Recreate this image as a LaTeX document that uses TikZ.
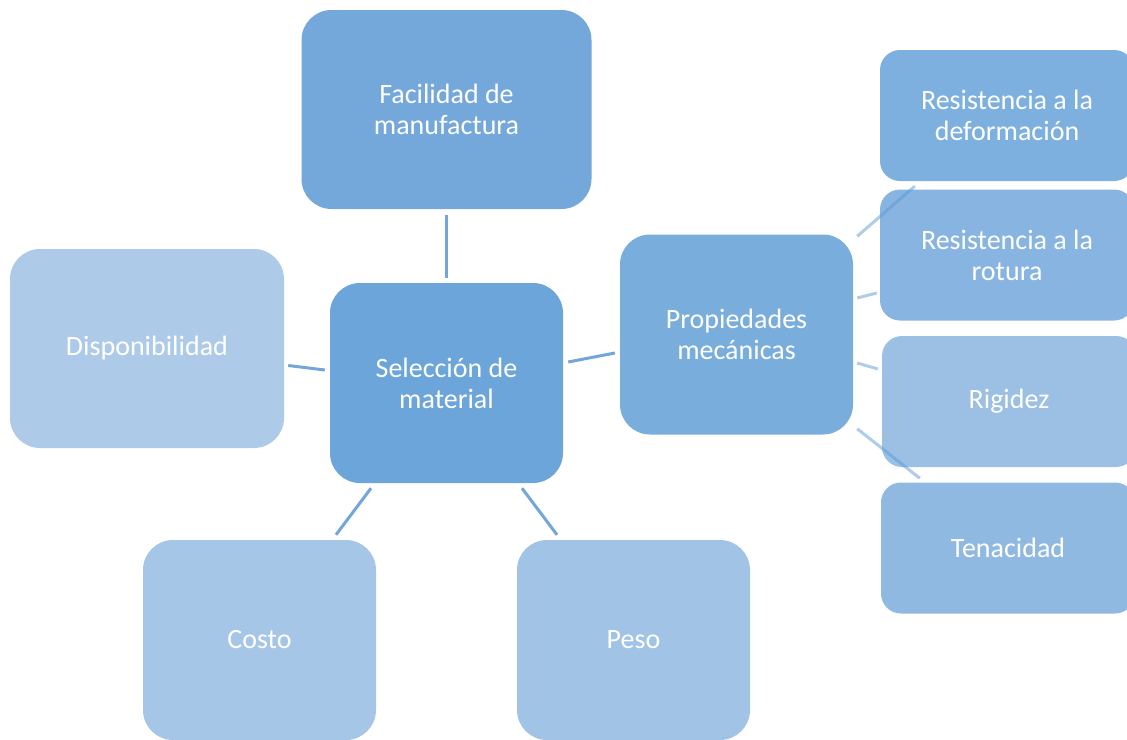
\documentclass[tikz,border=0pt]{standalone}
\usepackage{fontspec}
\setmainfont{Carlito}
\usetikzlibrary{calc}
\definecolor{cFac}{HTML}{74A8DA}
\definecolor{cSel}{HTML}{6CA5D9}
\definecolor{cProp}{HTML}{79ADDC}
\definecolor{cDisp}{HTML}{ADCBE9}
\definecolor{cCosto}{HTML}{A6C6E7}
\definecolor{cPeso}{HTML}{A1C4E6}
\definecolor{cDef}{HTML}{7DB0DE}
\definecolor{cRot}{HTML}{87B4E0}
\definecolor{cRig}{HTML}{9BC0E4}
\definecolor{cTen}{HTML}{90B9E2}
\definecolor{cLine}{HTML}{72A6D9}
\definecolor{cLineR}{HTML}{5B9BD5}
\tikzset{
  box/.style={rectangle, rounded corners=30pt, draw=none, text=white, align=center,
    font=\fontsize{28pt}{31pt}\selectfont, inner sep=0pt},
  bigbox/.style={box, minimum width=233pt, minimum height=200pt},
  sidebox/.style={box, rounded corners=20pt, minimum width=254pt, minimum height=131pt},
  conn/.style={draw=cLine, line width=3pt},
  connR/.style={draw=cLineR, draw opacity=0.5, line width=3pt},
}
\begin{document}
\begin{tikzpicture}[x=1pt,y=-1pt]
\useasboundingbox (0,0) rectangle (1127,739);
\clip (0,0) rectangle (1127,739);
\node[bigbox, fill=cFac, minimum width=290pt, minimum height=199pt] (fac) at (446.5,109.5) {Facilidad de\\manufactura};
\node[bigbox, fill=cDisp, minimum width=274pt, minimum height=199pt] (disp) at (147,348.5) {Disponibilidad};
\node[bigbox, fill=cSel] (sel) at (446.5,383) {Selección de\\material};
\node[bigbox, fill=cProp] (prop) at (736.5,334.5) {Propiedades\\mecánicas};
\node[bigbox, fill=cCosto] (costo) at (259.5,640) {Costo};
\node[bigbox, fill=cPeso] (peso) at (633.5,640) {Peso};
\node[sidebox, fill=cDef] (def) at (1007,115.5) {Resistencia a la\\deformación};
\node[sidebox, fill=cRot] (rot) at (1007,255) {Resistencia a la\\rotura};
\node[sidebox, fill=cRig] (rig) at (1009,401.5) {Rigidez};
\node[sidebox, fill=cTen] (ten) at (1008,548) {Tenacidad};
% connectors
\draw[conn] ($(fac.south)+(0,6)$) -- ($(sel.north)+(0,-5)$);
\draw[conn] ($(disp.east)+(4,17)$) -- ($(sel.west)+(-5,-13)$);
\draw[conn] ($(sel.east)+(5,-21)$) -- ($(prop.west)+(-5,18.5)$);
\draw[conn] ($(sel.south)+(-75.5,5)$) -- ($(costo.north)+(76.5,-5)$);
\draw[conn] ($(sel.south)+(75.5,5)$) -- ($(peso.north)+(-76.5,-5)$);
\draw[connR] ($(prop.north east)+(4,2)$) -- ($(def.south west)+(35,5)$);
\draw[connR] ($(prop.east)+(4,-36.5)$) -- ($(rot.west)+(-3,38)$);
\draw[connR] ($(prop.east)+(4,28.5)$) -- ($(rig.west)+(-4,-32.5)$);
\draw[connR] ($(prop.south east)+(4,-6)$) -- ($(ten.north west)+(39,-4)$);
\end{tikzpicture}
\end{document}
